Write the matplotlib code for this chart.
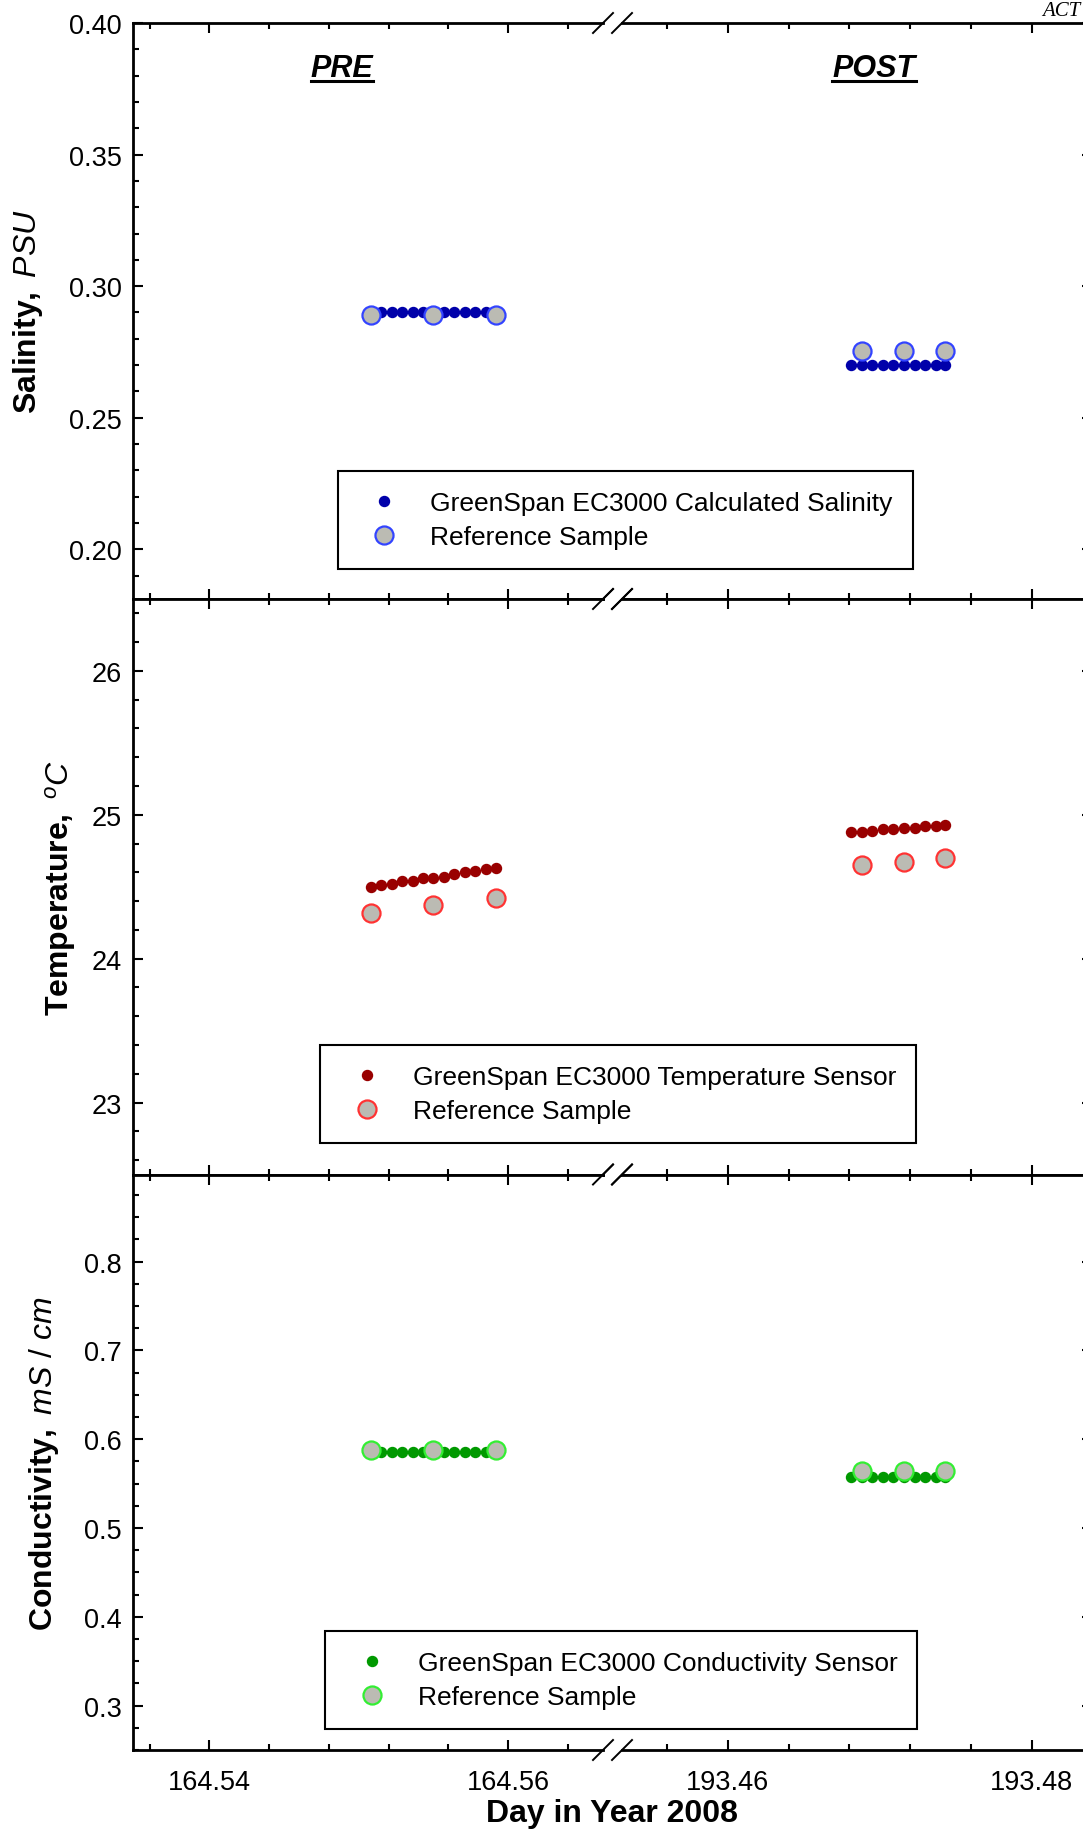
import matplotlib
matplotlib.use('Agg')
import matplotlib.pyplot as plt
from matplotlib.ticker import MultipleLocator, FormatStrFormatter
from matplotlib.lines import Line2D

plt.rcParams['font.family'] = 'Liberation Sans'
plt.rcParams['mathtext.fontset'] = 'custom'
plt.rcParams['mathtext.rm'] = 'Liberation Sans'
plt.rcParams['mathtext.it'] = 'Liberation Sans:italic'
plt.rcParams['mathtext.bf'] = 'Liberation Sans:bold'

# sample times (day in year 2008)
pre_time = [164.5508, 164.5515, 164.5522, 164.5529, 164.5536, 164.5543, 164.5550,
            164.5557, 164.5564, 164.5571, 164.5578, 164.5585, 164.5592]
pre_ref_time = [164.5508, 164.5550, 164.5592]
post_time = [193.4681, 193.4688, 193.4695, 193.4702, 193.4709, 193.4716, 193.4723,
             193.4730, 193.4737, 193.4743]
post_ref_time = [193.4688, 193.4716, 193.4743]

# salinity, PSU
sal_pre = [0.290] * 13
sal_pre_ref = [0.289, 0.289, 0.289]
sal_post = [0.270] * 10
sal_post_ref = [0.2755, 0.2755, 0.2752]

# temperature, C
temp_pre = [24.50, 24.51, 24.52, 24.54, 24.54, 24.56, 24.56, 24.57, 24.59, 24.60,
            24.61, 24.62, 24.63]
temp_pre_ref = [24.32, 24.37, 24.42]
temp_post = [24.88, 24.88, 24.89, 24.90, 24.90, 24.91, 24.91, 24.92, 24.92, 24.93]
temp_post_ref = [24.65, 24.67, 24.70]

# conductivity, mS/cm
cond_pre = [0.586] * 13
cond_pre_ref = [0.588, 0.588, 0.588]
cond_post = [0.557] * 10
cond_post_ref = [0.564, 0.564, 0.564]

W, H = 1083, 1831
fig = plt.figure(figsize=(W / 100, H / 100), dpi=100)

xl_left = (164.534875, 164.566343)
xl_right = (193.453028, 193.483970)
x_l0, x_l1, x_r0, x_r1 = 132.7, 603, 622, 1092
row_edges = [(24, 600), (600, 1175.5), (1175.5, 1751)]

panels = [
    dict(pre=sal_pre, pre_ref=sal_pre_ref, post=sal_post, post_ref=sal_post_ref,
         ylim=(0.1811, 0.40), major=0.05, minor=0.01, fmt='%.2f',
         dot='#0000AA', edge='#3344FF',
         ylabel=r'$\mathbf{Salinity,}$ $\mathit{PSU}$', labx=28,
         name='GreenSpan EC3000 Calculated Salinity', leg=(337.6, 472)),
    dict(pre=temp_pre, pre_ref=temp_pre_ref, post=temp_post, post_ref=temp_post_ref,
         ylim=(22.5, 26.5), major=1, minor=0.2, fmt='%d',
         dot='#990000', edge='#FF3333',
         ylabel=r'$\mathbf{Temperature,}$ $\mathit{^{o}C}$', labx=60,
         name='GreenSpan EC3000 Temperature Sensor', leg=(320, 1046)),
    dict(pre=cond_pre, pre_ref=cond_pre_ref, post=cond_post, post_ref=cond_post_ref,
         ylim=(0.25, 0.898), major=0.1, minor=0.025, fmt='%.1f',
         dot='#009900', edge='#33EE33',
         ylabel=r'$\mathbf{Conductivity,}$ $\mathit{mS\ /\ cm}$', labx=44,
         name='GreenSpan EC3000 Conductivity Sensor', leg=(325, 1632)),
]

gray = '#BBBBB3'
dot_ms = 7.2
ref_ms = 13
tick_kw = dict(direction='in', width=1.5, labelsize=19.5)

for i, p in enumerate(panels):
    top, bot = row_edges[i]
    y0 = 1 - bot / H
    h = (bot - top) / H
    axl = fig.add_axes([x_l0 / W, y0, (x_l1 - x_l0) / W, h])
    axr = fig.add_axes([x_r0 / W, y0, (x_r1 - x_r0) / W, h], sharey=axl)

    axl.plot(pre_time, p['pre'], 'o', ms=dot_ms, color=p['dot'], mec=p['dot'], zorder=3)
    axl.plot(pre_ref_time, p['pre_ref'], 'o', ms=ref_ms, mfc=gray, mec=p['edge'],
             mew=1.6, zorder=4)
    axr.plot(post_time, p['post'], 'o', ms=dot_ms, color=p['dot'], mec=p['dot'], zorder=3)
    axr.plot(post_ref_time, p['post_ref'], 'o', ms=ref_ms, mfc=gray, mec=p['edge'],
             mew=1.6, zorder=4)

    axl.set_xlim(*xl_left)
    axr.set_xlim(*xl_right)
    axl.set_ylim(*p['ylim'])

    for ax in (axl, axr):
        ax.xaxis.set_major_locator(MultipleLocator(0.02))
        ax.xaxis.set_minor_locator(MultipleLocator(0.004))
        ax.xaxis.set_major_formatter(FormatStrFormatter('%.2f'))
        ax.yaxis.set_major_locator(MultipleLocator(p['major']))
        ax.yaxis.set_minor_locator(MultipleLocator(p['minor']))
        ax.yaxis.set_major_formatter(FormatStrFormatter(p['fmt']))
        ax.tick_params(which='both', top=True, bottom=True, **tick_kw)
        ax.tick_params(which='major', length=7.2)
        ax.tick_params(which='minor', length=4.6)
        ax.tick_params(axis='x', pad=14)
        ax.tick_params(axis='y', pad=8)
        for s in ax.spines.values():
            s.set_linewidth(2)
        if i < 2:
            ax.tick_params(axis='x', labelbottom=False)

    axl.spines['right'].set_visible(False)
    axr.spines['left'].set_visible(False)
    axl.tick_params(axis='y', which='both', left=True, right=False)
    axr.tick_params(axis='y', which='both', left=False, right=True, labelleft=False)

    axl.set_ylabel(p['ylabel'], fontsize=23, va='center')
    axl.yaxis.set_label_coords((p['labx'] - x_l0) / (x_l1 - x_l0), 0.5)

    # break marks
    dxl, dxr, dy = 10 / (x_l1 - x_l0), 10 / (x_r1 - x_r0), 10 / (bot - top)
    for yy in (0, 1):
        axl.plot([1 - dxl, 1 + dxl], [yy - dy, yy + dy], transform=axl.transAxes,
                 color='k', lw=1.4, clip_on=False)
        axr.plot([-dxr, dxr], [yy - dy, yy + dy], transform=axr.transAxes,
                 color='k', lw=1.4, clip_on=False)

    handles = [
        Line2D([], [], ls='none', marker='o', ms=dot_ms, color=p['dot']),
        Line2D([], [], ls='none', marker='o', ms=ref_ms, mfc=gray, mec=p['edge'], mew=1.6),
    ]
    lx, ly = p['leg']
    leg = fig.legend(handles, [p['name'], 'Reference Sample'], loc='upper left',
                     bbox_to_anchor=(lx / W, 1 - ly / H), bbox_transform=fig.transFigure,
                     fontsize=19, frameon=True, fancybox=False, framealpha=1,
                     edgecolor='black', borderpad=0.75, labelspacing=0.38,
                     handlelength=2.05, handletextpad=0.72, borderaxespad=0)
    leg.get_frame().set_linewidth(1.5)

fig.text(612 / W, 1 - 1814 / H, 'Day in Year 2008', fontsize=23, fontweight='bold',
         ha='center', va='center')

# PRE / POST headers, underlined
heads = []
for label, xc in (('PRE', 342), ('POST', 874)):
    t = fig.text(xc / W, 1 - 77 / H, label, fontsize=22, fontweight='bold',
                 style='italic', ha='center', va='baseline')
    heads.append(t)
fig.canvas.draw()
r = fig.canvas.get_renderer()
for t in heads:
    bb = t.get_window_extent(r)
    fig.add_artist(Line2D([bb.x0 / W, bb.x1 / W], [1 - 82 / H] * 2,
                          transform=fig.transFigure, color='k', lw=2.2))

fig.text(1042 / W, 1 - 16 / H, 'ACT', fontsize=15, style='italic',
         family='Liberation Serif', ha='left', va='baseline')

fig.savefig('out.png', dpi=100)
